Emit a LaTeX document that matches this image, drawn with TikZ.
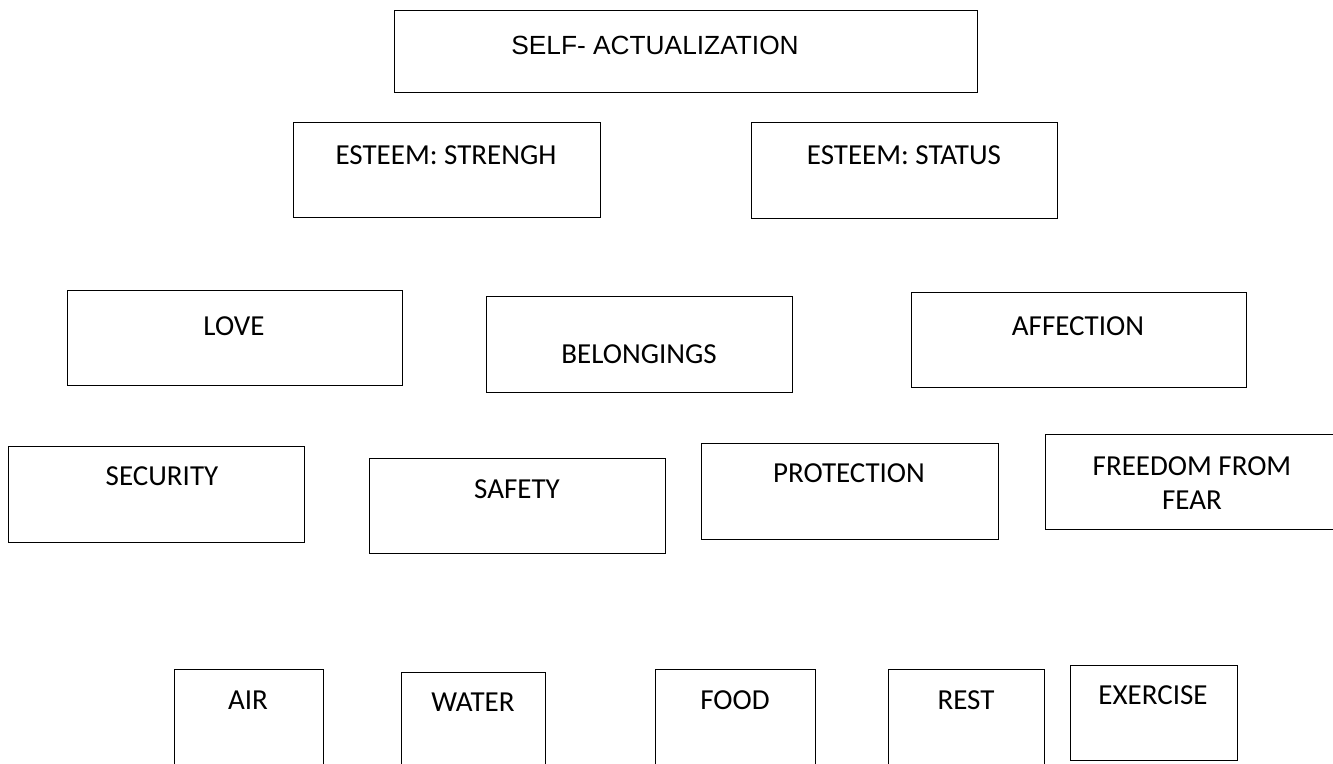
\documentclass[tikz,border=0pt]{standalone}
\usepackage{fontspec}
\setmainfont{Carlito}
\newfontfamily\arialf{Liberation Sans}
\begin{document}
\begin{tikzpicture}[x=1pt,y=-1pt,
  box/.style={draw=black, line width=1.3pt, fill=none, inner sep=0pt, anchor=north west},
  lbl/.style={font=\fontsize{29}{33}\selectfont, inner sep=0pt, anchor=center},
  ttl/.style={font=\arialf\fontsize{26.3}{30}\selectfont, inner sep=0pt, anchor=center}]
\useasboundingbox (0,0) rectangle (1333,763);
% boxes: corner, width, height
\node[box, minimum width=583pt, minimum height=82pt] (bself) at (394,10) {};
\node[ttl] (tself) at (655,45) {SELF- ACTUALIZATION};

\node[box, minimum width=307pt, minimum height=95pt] (bstr) at (293,122) {};
\node[lbl] (tstr) at (446,155) {ESTEEM: STRENGH};
\node[box, minimum width=306pt, minimum height=96pt] (bsta) at (751,122) {};
\node[lbl] (tsta) at (904,155) {ESTEEM: STATUS};

\node[box, minimum width=335pt, minimum height=95pt] (blove) at (67,290) {};
\node[lbl] (tlove) at (234,326) {LOVE};
\node[box, minimum width=306pt, minimum height=96pt] (bbel) at (486,296) {};
\node[lbl] (tbel) at (639,354) {BELONGINGS};
\node[box, minimum width=335pt, minimum height=95pt] (baff) at (911,292) {};
\node[lbl] (taff) at (1078,326) {AFFECTION};

\node[box, minimum width=296pt, minimum height=96pt] (bsec) at (8,446) {};
\node[lbl] (tsec) at (162,476) {SECURITY};
\node[box, minimum width=296pt, minimum height=95pt] (bsaf) at (369,458) {};
\node[lbl] (tsaf) at (517,489) {SAFETY};
\node[box, minimum width=297pt, minimum height=96pt] (bpro) at (701,443) {};
\node[lbl] (tpro) at (849,473) {PROTECTION};
\node[box, minimum width=300pt, minimum height=95pt] (bfree) at (1045,434) {};
\node[lbl, align=center] (tfree) at (1192,483) {FREEDOM FROM\\[1pt]FEAR};

\node[box, minimum width=149pt, minimum height=120pt] (bair) at (174,669) {};
\node[lbl] (tair) at (248,700) {AIR};
\node[box, minimum width=144pt, minimum height=120pt] (bwat) at (401,672) {};
\node[lbl] (twat) at (473,702) {WATER};
\node[box, minimum width=160pt, minimum height=120pt] (bfood) at (655,669) {};
\node[lbl] (tfood) at (735,700) {FOOD};
\node[box, minimum width=156pt, minimum height=120pt] (brest) at (888,669) {};
\node[lbl] (trest) at (966,700) {REST};
\node[box, minimum width=167pt, minimum height=95pt] (bex) at (1070,665) {};
\node[lbl] (tex) at (1153,695) {EXERCISE};
\end{tikzpicture}
\end{document}
